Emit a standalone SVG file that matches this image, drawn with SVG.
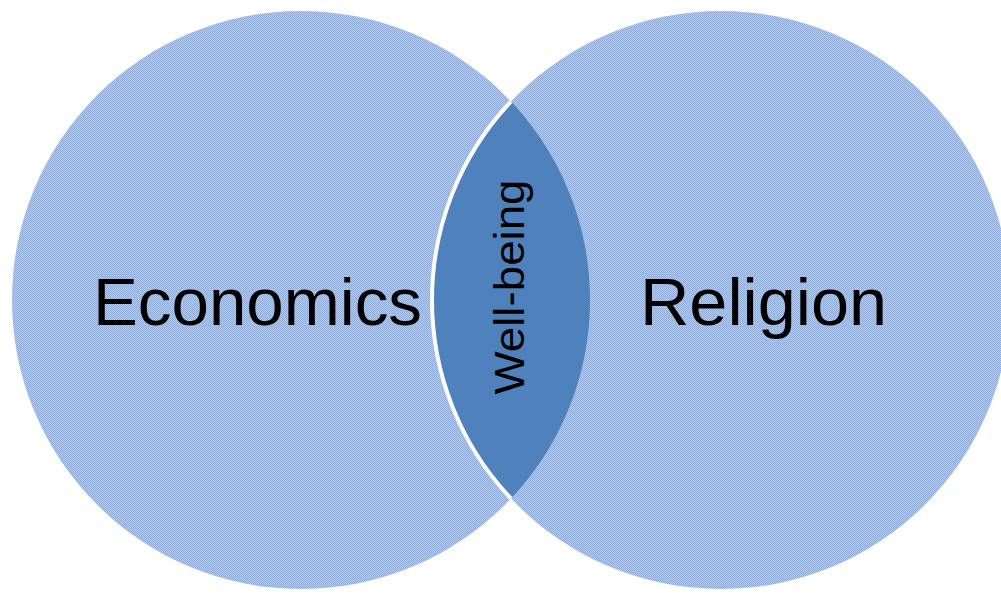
<svg xmlns="http://www.w3.org/2000/svg" width="1001" height="595" viewBox="0 0 1001 595">
  <defs>
    <!-- fine checker texture used by both circles -->
    <pattern id="checker" width="2" height="2" patternUnits="userSpaceOnUse">
      <rect width="2" height="2" fill="#b7cae7"/>
      <rect width="1" height="1" fill="#8fabd6"/>
      <rect x="1" y="1" width="1" height="1" fill="#8fabd6"/>
    </pattern>
    <clipPath id="leftClip">
      <circle cx="301" cy="300" r="289"/>
    </clipPath>
  </defs>
  <style>
    .set { fill: url(#checker); }
    .label { font-family: "Liberation Sans", Arial, sans-serif; fill: #000; }
  </style>
  <rect width="1001" height="595" fill="#fff"/>
  <g id="economics">
    <circle class="set" cx="301" cy="300" r="289"/>
    <text class="label" x="93" y="325" font-size="66" textLength="329" lengthAdjust="spacingAndGlyphs">Economics</text>
  </g>
  <g id="religion">
    <circle class="set" cx="721" cy="300" r="289"/>
    <text class="label" x="640" y="325" font-size="66" textLength="247" lengthAdjust="spacingAndGlyphs">Religion</text>
  </g>
  <g id="well-being">
    <g clip-path="url(#leftClip)">
      <circle cx="721" cy="300" r="289" fill="#4f81bd" stroke="#fff" stroke-width="4"/>
    </g>
    <text class="label" transform="translate(524,287) rotate(-90)" text-anchor="middle" font-size="42" textLength="215" lengthAdjust="spacingAndGlyphs">Well-being</text>
  </g>
</svg>
